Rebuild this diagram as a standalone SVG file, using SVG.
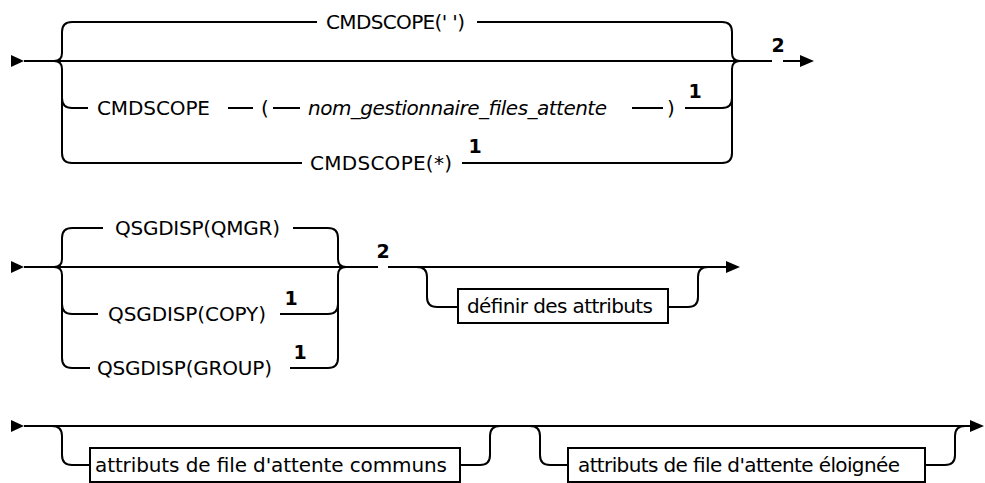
<svg xmlns="http://www.w3.org/2000/svg" width="985" height="483" viewBox="0 0 985 483">
<style>
.ln{fill:none;stroke:#000;stroke-width:2;stroke-linecap:butt;stroke-linejoin:round}
.ah{fill:#000;stroke:none}
.t{font-family:"DejaVu Sans","Liberation Sans",sans-serif;font-size:20px;fill:#000}
.it{font-style:italic}
.sup{font-family:"DejaVu Sans","Liberation Sans",sans-serif;font-size:19px;font-weight:bold;fill:#000;text-anchor:middle}
.box{fill:#fff;stroke:#000;stroke-width:2}
</style>
<rect width="985" height="483" fill="#fff"/>
<g id="connectors">
  <!-- diagram 1 -->
  <polygon class="ah" points="11,55 24,61 11,67"/>
  <path class="ln" d="M24,61 H772 M783,61 H801"/>
  <polygon class="ah" points="800,55 814,61 800,67"/>
  <path class="ln" d="M72,22 Q62,22 62,32 V53 Q62,61 54,61 Q62,61 62,69 V153 Q62,163 72,163 M62,98 Q62,108 72,108"/>
  <path class="ln" d="M722,22 Q732,22 732,32 V53 Q732,61 740,61 Q732,61 732,69 V153 Q732,163 722,163 M722,108 Q732,108 732,98"/>
  <path class="ln" d="M72,22 H317 M477,22 H722"/>
  <path class="ln" d="M72,108 H88 M228,108 H253 M273,108 H300 M632,108 H663 M685,108 H722"/>
  <path class="ln" d="M72,163 H302 M462,163 H722"/>
  <!-- diagram 2 -->
  <polygon class="ah" points="11,261 24,267 11,273"/>
  <path class="ln" d="M24,267 H378 M388,267 H727"/>
  <polygon class="ah" points="726,261 740,267 726,273"/>
  <path class="ln" d="M72,228 Q62,228 62,238 V259 Q62,267 54,267 Q62,267 62,275 V358 Q62,368 72,368 M62,304 Q62,314 72,314"/>
  <path class="ln" d="M328,228 Q338,228 338,238 V259 Q338,267 346,267 Q338,267 338,275 V358 Q338,368 328,368 M328,314 Q338,314 338,304"/>
  <path class="ln" d="M72,228 H103 M293,228 H328"/>
  <path class="ln" d="M72,314 H98 M280,314 H328"/>
  <path class="ln" d="M72,368 H90 M290,368 H328"/>
  <path class="ln" d="M417,267 Q427,267 427,277 V297 Q427,307 437,307 H458 M668,307 H688 Q698,307 698,297 V277 Q698,267 708,267"/>
  <!-- diagram 3 -->
  <polygon class="ah" points="11,420 24,426 11,432"/>
  <path class="ln" d="M24,426 H971"/>
  <polygon class="ah" points="970,420 984,426 970,432"/>
  <path class="ln" d="M52,426 Q62,426 62,436 V455 Q62,465 72,465 H90 M460,465 H480 Q490,465 490,455 V436 Q490,426 500,426"/>
  <path class="ln" d="M530,426 Q540,426 540,436 V455 Q540,465 550,465 H568 M925,465 H945 Q955,465 955,455 V436 Q955,426 965,426"/>
</g>
<g id="cmdscope-default"><text class="t" x="326" y="29" textLength="139">CMDSCOPE(' ')</text></g>
<g id="cmdscope-qmgr">
  <text class="t" x="97" y="115" textLength="113">CMDSCOPE</text>
  <text class="t" x="261" y="115">(</text>
  <text class="t it" x="308" y="115" textLength="299">nom_gestionnaire_files_attente</text>
  <text class="t" x="667" y="115">)</text>
  <text class="sup" x="695" y="98">1</text>
</g>
<g id="cmdscope-star">
  <text class="t" x="310" y="170" textLength="142">CMDSCOPE(*)</text>
  <text class="sup" x="475" y="153">1</text>
</g>
<g id="note-2a"><text class="sup" x="778" y="52">2</text></g>
<g id="qsgdisp-qmgr"><text class="t" x="115" y="235" textLength="165">QSGDISP(QMGR)</text></g>
<g id="qsgdisp-copy">
  <text class="t" x="108" y="321" textLength="158">QSGDISP(COPY)</text>
  <text class="sup" x="291" y="305">1</text>
</g>
<g id="qsgdisp-group">
  <text class="t" x="97" y="375" textLength="175">QSGDISP(GROUP)</text>
  <text class="sup" x="300" y="359">1</text>
</g>
<g id="note-2b"><text class="sup" x="383" y="258">2</text></g>
<g id="definir-attributs">
  <rect class="box" x="458" y="289" width="210" height="34"/>
  <text class="t" x="467" y="313" textLength="186">définir des attributs</text>
</g>
<g id="attributs-communs">
  <rect class="box" x="90" y="448" width="370" height="34"/>
  <text class="t" x="95" y="472" textLength="352">attributs de file d'attente communs</text>
</g>
<g id="attributs-eloignee">
  <rect class="box" x="568" y="448" width="357" height="34"/>
  <text class="t" x="578" y="472" textLength="322">attributs de file d'attente éloignée</text>
</g>
</svg>
